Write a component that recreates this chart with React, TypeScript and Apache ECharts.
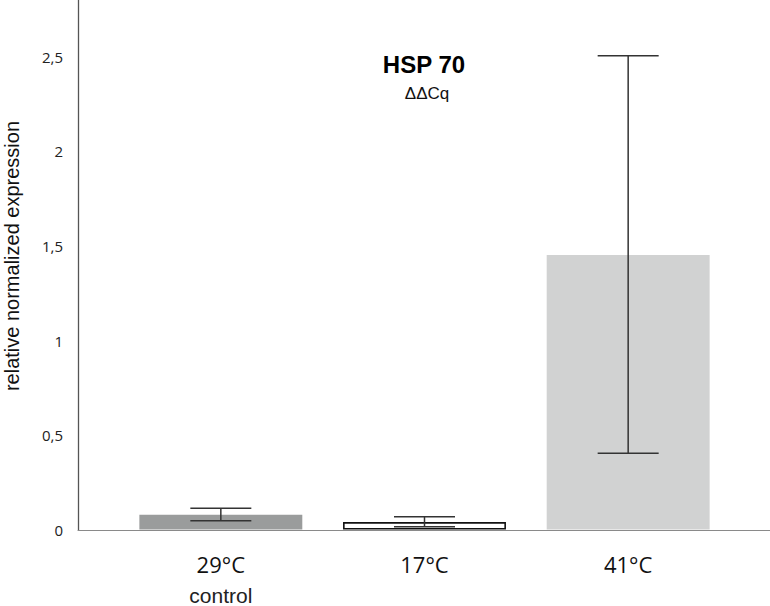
import React, { useEffect, useRef } from "react";
import * as echarts from "echarts";

const categories = ["29°C", "17°C", "41°C"];
const subLabels = ["control", "", ""];
const values = [0.078, 0.039, 1.452];
const errLow = [0.046, 0.014, 0.403];
const errHigh = [0.112, 0.067, 2.505];
const barColors = ["#9a9c9c", "#ffffff", "#d1d2d2"];
const yTicks = [0, 0.5, 1, 1.5, 2, 2.5];
const title = "HSP 70";
const subtitle = "ΔΔCq";
const yTitle = "relative normalized expression";

const Y_MIN = 0;
const Y_MAX = 2.8;

export default function App() {
  const ref = useRef<HTMLDivElement>(null);
  useEffect(() => {
    if (!ref.current) return;
    const chart = echarts.init(ref.current, null, { renderer: "svg" });
    const option: any = {
      animation: false,
      backgroundColor: "#ffffff",
      grid: [
        { left: 78, right: 0, top: 0, bottom: 76 },
        { left: 119, right: 40, top: 0, bottom: 76 },
      ],
      xAxis: [
        {
          type: "value",
          gridIndex: 0,
          min: 0,
          max: 1,
          axisLine: { show: true, onZero: false, lineStyle: { color: "#8a8a8a", width: 1 } },
          axisTick: { show: false },
          axisLabel: { show: false },
          splitLine: { show: false },
        },
        {
          type: "category",
          gridIndex: 1,
          data: categories,
          axisLine: { show: false },
          axisTick: { show: false },
          splitLine: { show: false },
          axisLabel: {
            margin: 18,
            formatter: (v: string, i: number) =>
              subLabels[i] ? `{a|${v}}\n{b|${subLabels[i]}}` : `{a|${v}}`,
            rich: {
              a: { fontFamily: "Open Sans", fontSize: 22, color: "#111", lineHeight: 32 },
              b: { fontFamily: "Liberation Sans", fontSize: 21, color: "#222", lineHeight: 32 },
            },
          },
        },
      ],
      yAxis: [
        {
          type: "value",
          gridIndex: 0,
          min: Y_MIN,
          max: Y_MAX,
          interval: 0.5,
          axisLine: { show: true, lineStyle: { color: "#555", width: 1.3 } },
          axisTick: { show: false },
          splitLine: { show: false },
          axisLabel: {
            margin: 15,
            showMaxLabel: false,
            fontFamily: "Open Sans",
            fontSize: 15,
            color: "#222",
            formatter: (v: number) =>
              yTicks.some((t) => Math.abs(t - v) < 1e-9) ? String(v).replace(".", ",") : "",
          },
        },
        {
          type: "value",
          gridIndex: 1,
          min: Y_MIN,
          max: Y_MAX,
          show: false,
          splitLine: { show: false },
        },
      ],
      series: [
        {
          type: "bar",
          xAxisIndex: 1,
          yAxisIndex: 1,
          barWidth: "80%",
          data: values.map((v, i) => ({
            value: v,
            itemStyle: {
              color: barColors[i],
              borderColor: i === 1 ? "#111" : barColors[i],
              borderWidth: i === 1 ? 1.6 : 0,
            },
          })),
        },
        {
          type: "custom",
          xAxisIndex: 1,
          yAxisIndex: 1,
          data: categories.map((c, i) => [i, errLow[i], errHigh[i]]),
          renderItem: (params: any, api: any) => {
            const x = api.value(0);
            const lo = api.coord([x, api.value(1)]);
            const hi = api.coord([x, api.value(2)]);
            const half = 30.5;
            const style = { stroke: "#333", lineWidth: 1.5 };
            return {
              type: "group",
              children: [
                { type: "line", shape: { x1: lo[0], y1: lo[1], x2: hi[0], y2: hi[1] }, style },
                { type: "line", shape: { x1: lo[0] - half, y1: lo[1], x2: lo[0] + half, y2: lo[1] }, style },
                { type: "line", shape: { x1: hi[0] - half, y1: hi[1], x2: hi[0] + half, y2: hi[1] }, style },
              ],
            };
          },
          z: 5,
        },
      ],
      graphic: [
        {
          type: "text",
          x: 12,
          y: 256,
          rotation: Math.PI / 2,
          style: {
            text: yTitle,
            fontFamily: "Liberation Sans",
            fontSize: 20,
            fill: "#111",
            textAlign: "center",
            textVerticalAlign: "middle",
          },
        },
        {
          type: "text",
          x: 424,
          y: 64,
          style: {
            text: title,
            fontFamily: "Liberation Sans",
            fontWeight: "bold",
            fontSize: 24,
            fill: "#000",
            textAlign: "center",
            textVerticalAlign: "middle",
          },
        },
        {
          type: "text",
          x: 427,
          y: 93,
          style: {
            text: subtitle,
            fontFamily: "Liberation Sans",
            fontSize: 17,
            fill: "#111",
            textAlign: "center",
            textVerticalAlign: "middle",
          },
        },
      ],
    };
    chart.setOption(option);
    return () => chart.dispose();
  }, []);
  return (
    <div
      ref={ref}
      style={{ position: "fixed", left: 0, top: 0, width: 770, height: 606, background: "#fff" }}
    />
  );
}
